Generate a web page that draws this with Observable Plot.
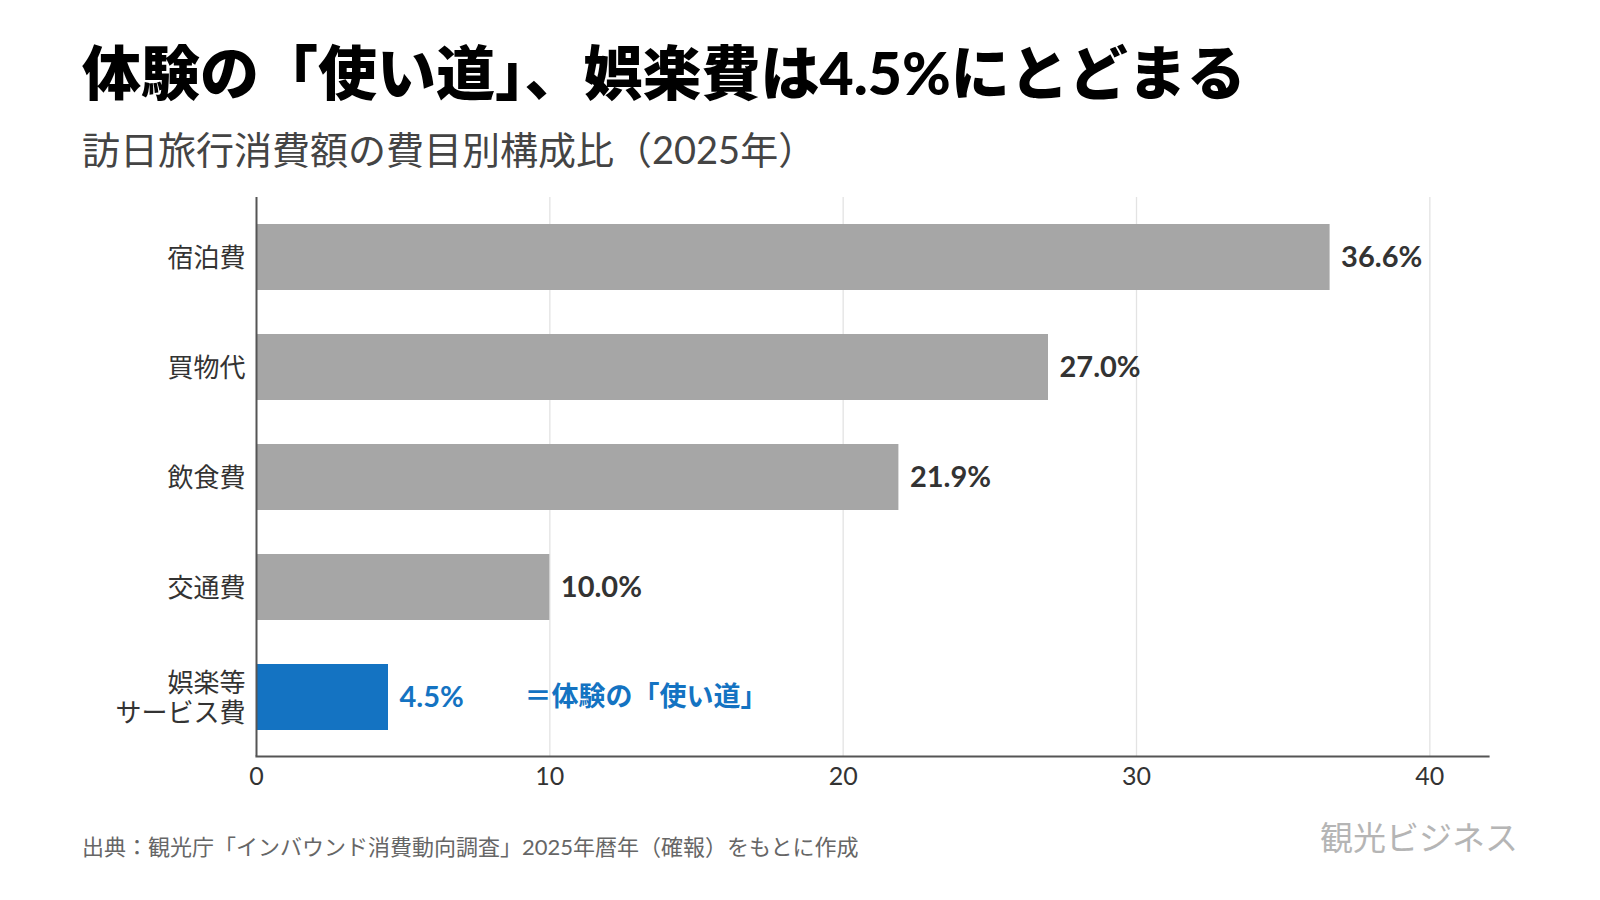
<!DOCTYPE html>
<html lang="ja">
<head>
<meta charset="utf-8">
<script src="https://cdn.jsdelivr.net/npm/d3@7"></script>
<script src="https://cdn.jsdelivr.net/npm/@observablehq/plot@0.6"></script>
<style>
  html, body { margin: 0; padding: 0; background: #fff; }
  body { width: 1600px; height: 900px; position: relative; overflow: hidden;
         font-family: Lato, "Noto Sans CJK JP", sans-serif; }
  .title { position: absolute; left: 82px; top: 43px; font-size: 59px; line-height: 1;
           font-weight: 900; color: #000; white-space: nowrap; }
  .subtitle { position: absolute; left: 82px; top: 130px; font-size: 38px; line-height: 1;
              font-weight: 400; color: #444; white-space: nowrap; }
  .source { position: absolute; left: 82px; top: 836px; font-size: 22px; line-height: 1;
            color: #666; white-space: nowrap; }
  .logo { position: absolute; right: 82px; top: 820px; font-size: 33px; line-height: 1;
          color: #b5b5b5; white-space: nowrap; font-family: "Noto Sans CJK JP", sans-serif; font-weight: 400; }
  #chart { position: absolute; left: 0; top: 180px; }
</style>
</head>
<body>
<div class="title">体験の「使い道」、娯楽費は4.5%にとどまる</div>
<div class="subtitle">訪日旅行消費額の費目別構成比（2025年）</div>
<div id="chart"></div>
<div class="source">出典：観光庁「インバウンド消費動向調査」2025年暦年（確報）をもとに作成</div>
<div class="logo">観光ビジネス</div>
<script>
// 費目別構成比（%）
const categories = ["宿泊費", "買物代", "飲食費", "交通費", "娯楽等\nサービス費"];
const shares = [36.6, 27.0, 21.9, 10.0, 4.5];
const highlight = "娯楽等\nサービス費";
const note = "＝体験の「使い道」";
const xTicks = [0, 10, 20, 30, 40];

const GRAY = "#a6a6a6";
const BLUE = "#1473c2";

const rows = categories.map((c, i) => ({category: c, share: shares[i]}));
const noteRow = rows.filter(d => d.category === highlight);

const chart = Plot.plot({
  width: 1600,
  height: 620,
  marginLeft: 256,
  marginRight: 112,
  marginTop: 17,
  marginBottom: 44,
  style: {fontFamily: 'Lato, "Noto Sans CJK JP", sans-serif', background: "#fff", overflow: "visible"},
  x: {domain: [0, 42], ticks: xTicks},
  y: {domain: categories, paddingInner: 0.4, paddingOuter: 0.24},
  marks: [
    Plot.gridX(xTicks.filter(t => t > 0), {stroke: "#e3e3e3", strokeOpacity: 1, strokeWidth: 1.3}),
    Plot.barX(rows, {
      x: "share", y: "category",
      fill: d => d.category === highlight ? BLUE : GRAY
    }),
    Plot.text(rows, {
      x: "share", y: "category",
      text: d => d.share.toFixed(1) + "%",
      dx: 11, textAnchor: "start",
      fontSize: 29, fontWeight: 700,
      fill: d => d.category === highlight ? BLUE : "#333"
    }),
    Plot.text(noteRow, {
      x: "share", y: "category",
      text: () => note,
      dx: 136, textAnchor: "start",
      fontSize: 27, fontWeight: 700,
      fontFamily: '"Noto Sans CJK JP", sans-serif',
      fill: BLUE
    }),
    Plot.ruleX([0], {stroke: "#555", strokeWidth: 2}),
    Plot.frame({anchor: "bottom", stroke: "#555", strokeWidth: 2.2}),
    Plot.axisX({ticks: xTicks, tickSize: 0, tickPadding: 11, fontSize: 25, color: "#333", label: null}),
    Plot.axisY({tickSize: 0, tickPadding: 11, fontSize: 26, lineHeight: 1.15, color: "#333", label: null,
                fontFamily: '"Noto Sans CJK JP", sans-serif'})
  ]
});
document.getElementById("chart").append(chart);
</script>
</body>
</html>
